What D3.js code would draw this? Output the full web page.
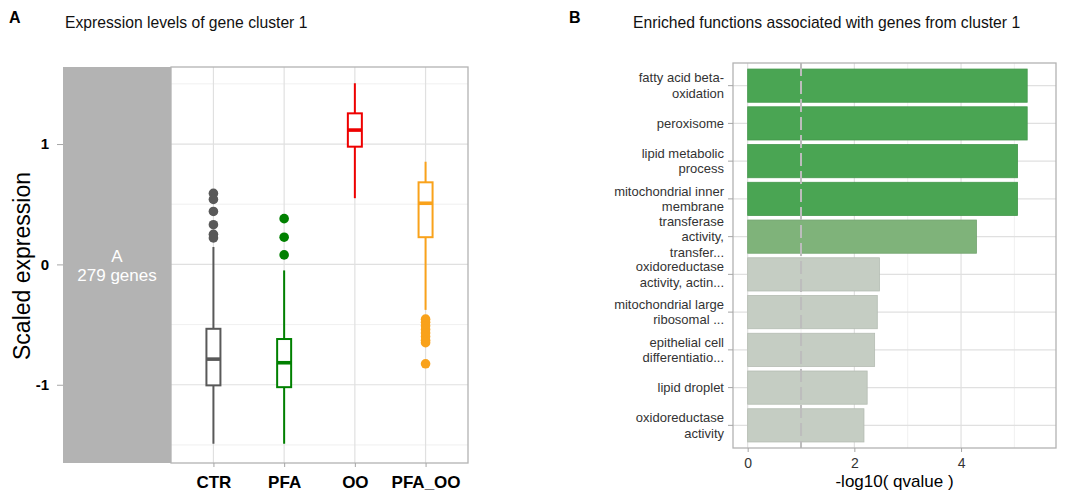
<!DOCTYPE html>
<html>
<head>
<meta charset="utf-8">
<script src="https://cdn.jsdelivr.net/npm/d3@7"></script>
<style>
body { margin: 0; background: #fff; }
text { font-family: "Liberation Sans", Arial, sans-serif; }
</style>
</head>
<body>
<div id="chart-area"></div>
<script>
// panel A: boxplot stats per group
var groups = ["CTR", "PFA", "OO", "PFA_OO"];
var whiskerLow = [-1.49, -1.49, 0.55, -0.378];
var boxQ1 = [-1.005, -1.02, 0.978, 0.226];
var boxMedian = [-0.787, -0.817, 1.116, 0.508];
var boxQ3 = [-0.535, -0.62, 1.255, 0.682];
var whiskerHigh = [0.145, -0.05, 1.505, 0.853];
var outliersCTR = [0.59, 0.54, 0.44, 0.33, 0.25, 0.22];
var outliersPFA = [0.38, 0.226, 0.079];
var outliersOO = [];
var outliersPFAOO = [-0.455, -0.48, -0.51, -0.54, -0.57, -0.6, -0.63, -0.65, -0.826];
var yTicksA = [-1, 0, 1];
var yMinorA = [-1.5, -0.5, 0.5, 1.5];

// panel B: enrichment
var terms = [
    "fatty acid beta-\noxidation",
    "peroxisome",
    "lipid metabolic\nprocess",
    "mitochondrial inner\nmembrane",
    "transferase\nactivity,\ntransfer...",
    "oxidoreductase\nactivity, actin...",
    "mitochondrial large\nribosomal ...",
    "epithelial cell\ndifferentiatio...",
    "lipid droplet",
    "oxidoreductase\nactivity"
];
var qScores = [5.24, 5.24, 5.06, 5.06, 4.29, 2.47, 2.43, 2.38, 2.24, 2.18];
var xTicksB = [0, 2, 4];
var xMinorB = [1, 3, 5];
var cutoff = 1;

var groupColors = d3.scaleOrdinal().domain(groups)
    .range(["#595959", "#008000", "#ee0000", "#f9a21b"]);
var barColor = d3.scaleThreshold().domain([3, 5])
    .range(["#c5cdc3", "#7fb37a", "#4aa553"]);

var svg = d3.select("#chart-area").append("svg")
    .attr("width", 1084)
    .attr("height", 498);

// ---------- panel A ----------
var a = {left: 171, right: 468, top: 67, bottom: 463, strip: 63};

var yA = d3.scaleLinear().domain([-1.65, 1.64]).range([a.bottom, a.top]);
var xA = d3.scalePoint().domain(groups).range([a.left, a.right]).padding(0.6);

svg.append("text").attr("x", 9).attr("y", 23)
    .attr("font-size", "16px").attr("font-weight", "bold").text("A");
svg.append("text").attr("x", 65).attr("y", 28)
    .attr("font-size", "15.7px").attr("fill", "#111").text("Expression levels of gene cluster 1");

var gA = svg.append("g");

gA.selectAll(".minorA").data(yMinorA).enter().append("line")
    .attr("x1", a.left).attr("x2", a.right)
    .attr("y1", (d) => yA(d)).attr("y2", (d) => yA(d))
    .attr("stroke", "#ececec").attr("stroke-width", 0.8);
gA.selectAll(".majorA").data(yTicksA).enter().append("line")
    .attr("x1", a.left).attr("x2", a.right)
    .attr("y1", (d) => yA(d)).attr("y2", (d) => yA(d))
    .attr("stroke", "#e0e0e0").attr("stroke-width", 1.2);
gA.selectAll(".vgridA").data(groups).enter().append("line")
    .attr("x1", (d) => xA(d)).attr("x2", (d) => xA(d))
    .attr("y1", a.top).attr("y2", a.bottom)
    .attr("stroke", "#e0e0e0").attr("stroke-width", 1.2);

// facet strip on the left
gA.append("rect").attr("x", a.strip).attr("y", a.top)
    .attr("width", a.left - a.strip).attr("height", a.bottom - a.top)
    .attr("fill", "#b3b3b3");
var stripText = gA.append("text")
    .attr("x", (a.strip + a.left) / 2).attr("y", 262)
    .attr("text-anchor", "middle").attr("font-size", "17px").attr("fill", "white");
stripText.append("tspan").attr("x", (a.strip + a.left) / 2).attr("dy", 0).text("A");
stripText.append("tspan").attr("x", (a.strip + a.left) / 2).attr("dy", 19).text("279 genes");

gA.append("rect").attr("x", a.left).attr("y", a.top)
    .attr("width", a.right - a.left).attr("height", a.bottom - a.top)
    .attr("fill", "none").attr("stroke", "#b3b3b3").attr("stroke-width", 1.3);

// boxes
var boxW = 14;
var boxData = groups.map((g, i) => ({
    name: g, lo: whiskerLow[i], q1: boxQ1[i], med: boxMedian[i], q3: boxQ3[i], hi: whiskerHigh[i],
    out: [outliersCTR, outliersPFA, outliersOO, outliersPFAOO][i]
}));

var boxes = gA.selectAll(".box").data(boxData).enter().append("g");
boxes.append("line")
    .attr("x1", (d) => xA(d.name)).attr("x2", (d) => xA(d.name))
    .attr("y1", (d) => yA(d.hi)).attr("y2", (d) => yA(d.q3))
    .attr("stroke", (d) => groupColors(d.name)).attr("stroke-width", 2);
boxes.append("line")
    .attr("x1", (d) => xA(d.name)).attr("x2", (d) => xA(d.name))
    .attr("y1", (d) => yA(d.q1)).attr("y2", (d) => yA(d.lo))
    .attr("stroke", (d) => groupColors(d.name)).attr("stroke-width", 2);
boxes.append("rect")
    .attr("x", (d) => xA(d.name) - boxW / 2).attr("width", boxW)
    .attr("y", (d) => yA(d.q3)).attr("height", (d) => yA(d.q1) - yA(d.q3))
    .attr("fill", "white").attr("stroke", (d) => groupColors(d.name)).attr("stroke-width", 2);
boxes.append("line")
    .attr("x1", (d) => xA(d.name) - boxW / 2).attr("x2", (d) => xA(d.name) + boxW / 2)
    .attr("y1", (d) => yA(d.med)).attr("y2", (d) => yA(d.med))
    .attr("stroke", (d) => groupColors(d.name)).attr("stroke-width", 3.6);
boxes.each(function(d) {
    d3.select(this).selectAll("circle").data(d.out).enter().append("circle")
        .attr("cx", xA(d.name)).attr("cy", (v) => yA(v)).attr("r", 4.8)
        .attr("fill", groupColors(d.name));
});

// axes A
var yAxisA = svg.append("g").attr("transform", "translate(" + a.strip + ",0)")
    .call(d3.axisLeft(yA).tickValues(yTicksA).tickSize(6).tickPadding(8).tickFormat(d3.format("d")));
yAxisA.select(".domain").remove();
yAxisA.selectAll("line").attr("stroke", "#a6a6a6");
yAxisA.selectAll("text").attr("font-size", "15px").attr("font-weight", "bold").attr("fill", "#000")
    .text((d) => d < 0 ? "-" + Math.abs(d) : d);

var xAxisA = svg.append("g").attr("transform", "translate(0," + a.bottom + ")")
    .call(d3.axisBottom(xA).tickSize(4).tickPadding(8.6));
xAxisA.select(".domain").remove();
xAxisA.selectAll("line").attr("stroke", "#a6a6a6");
xAxisA.selectAll("text").attr("font-size", "17px").attr("font-weight", "bold").attr("fill", "#000");

svg.append("text")
    .attr("transform", "translate(30," + 266 + ") rotate(-90)")
    .attr("text-anchor", "middle").attr("font-size", "23px").attr("fill", "#000")
    .text("Scaled expression");

// ---------- panel B ----------
var b = {left: 733, right: 1056, top: 63, bottom: 448};

var xB = d3.scaleLinear().domain([-0.275, 5.78]).range([b.left, b.right]);
var yB = d3.scaleBand().domain(terms).range([b.top, b.bottom]).paddingInner(0.12).paddingOuter(0.16);

svg.append("text").attr("x", 569).attr("y", 23)
    .attr("font-size", "16px").attr("font-weight", "bold").text("B");
svg.append("text").attr("x", 633).attr("y", 28)
    .attr("font-size", "15.7px").attr("fill", "#111").text("Enriched functions associated with genes from cluster 1");

var gB = svg.append("g");

gB.selectAll(".minorB").data(xMinorB).enter().append("line")
    .attr("x1", (d) => xB(d)).attr("x2", (d) => xB(d))
    .attr("y1", b.top).attr("y2", b.bottom)
    .attr("stroke", "#ececec").attr("stroke-width", 0.8);
gB.selectAll(".majorB").data(xTicksB).enter().append("line")
    .attr("x1", (d) => xB(d)).attr("x2", (d) => xB(d))
    .attr("y1", b.top).attr("y2", b.bottom)
    .attr("stroke", "#e0e0e0").attr("stroke-width", 1.2);
gB.selectAll(".hgridB").data(terms).enter().append("line")
    .attr("x1", b.left).attr("x2", b.right)
    .attr("y1", (d) => yB(d) + yB.bandwidth() / 2).attr("y2", (d) => yB(d) + yB.bandwidth() / 2)
    .attr("stroke", "#e0e0e0").attr("stroke-width", 1.2);

gB.selectAll(".bar").data(terms).enter().append("rect")
    .attr("x", xB(0))
    .attr("y", (d) => yB(d))
    .attr("width", (d, i) => xB(qScores[i]) - xB(0))
    .attr("height", yB.bandwidth())
    .attr("fill", (d, i) => barColor(qScores[i]))
    .attr("stroke", (d, i) => d3.color(barColor(qScores[i])).darker(0.25))
    .attr("stroke-width", 0.8);

gB.append("line")
    .attr("x1", xB(cutoff)).attr("x2", xB(cutoff))
    .attr("y1", b.top).attr("y2", b.bottom)
    .attr("stroke", "#bdbdbd").attr("stroke-width", 2)
    .attr("stroke-dasharray", "13,5");

gB.append("rect").attr("x", b.left).attr("y", b.top)
    .attr("width", b.right - b.left).attr("height", b.bottom - b.top)
    .attr("fill", "none").attr("stroke", "#b3b3b3").attr("stroke-width", 1.3);

var yAxisB = svg.append("g").attr("transform", "translate(" + b.left + ",0)")
    .call(d3.axisLeft(yB).tickSize(5).tickPadding(4));
yAxisB.select(".domain").remove();
yAxisB.selectAll("line").attr("stroke", "#a6a6a6");
var lineH = 15.5;
yAxisB.selectAll("text").each(function(d) {
    var lines = d.split("\n");
    var t = d3.select(this).text(null).attr("dy", null)
        .attr("font-size", "13px").attr("fill", "#333");
    lines.forEach((s, i) => {
        t.append("tspan").attr("x", -9)
            .attr("dy", i === 0 ? (4.5 - (lines.length - 1) / 2 * lineH) + "px" : lineH + "px")
            .text(s);
    });
});

var xAxisB = svg.append("g").attr("transform", "translate(0," + b.bottom + ")")
    .call(d3.axisBottom(xB).tickValues(xTicksB).tickSize(4).tickPadding(6).tickFormat(d3.format("d")));
xAxisB.select(".domain").remove();
xAxisB.selectAll("line").attr("stroke", "#a6a6a6");
xAxisB.selectAll("text").attr("font-size", "14px").attr("fill", "#333");

svg.append("text")
    .attr("x", (b.left + b.right) / 2).attr("y", 487)
    .attr("text-anchor", "middle").attr("font-size", "17px").attr("fill", "#000")
    .text("-log10( qvalue )");
</script>
</body>
</html>
